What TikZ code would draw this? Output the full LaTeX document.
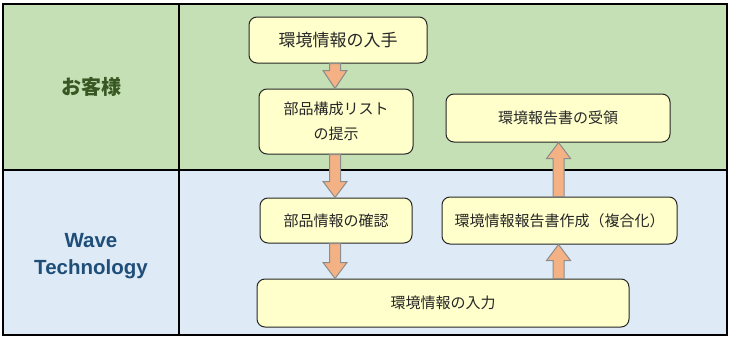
\documentclass[tikz,border=0pt]{standalone}
\usepackage{fontspec}
\setmainfont{Noto Sans CJK JP}
\newfontfamily\latinfont{Liberation Sans}
\usetikzlibrary{calc}
\definecolor{custgreen}{HTML}{C5E0B4}
\definecolor{wtblue}{HTML}{DEEBF7}
\definecolor{boxfill}{HTML}{FFFFCC}
\definecolor{arrowfill}{HTML}{F4B183}
\definecolor{custtext}{HTML}{385723}
\definecolor{wttext}{HTML}{1F4E79}

\begin{document}
\begin{tikzpicture}
  [x=1pt, y=-1pt,
   every node/.style={font=\fontsize{15}{25}\selectfont, text=black!85},
   stepbox/.style={draw=black!85, fill=boxfill, rounded corners=8pt, line width=1pt,
                   inner sep=0pt, align=center},
   lanelabel/.style={font=\fontsize{20}{26}\selectfont\bfseries, align=center},
   fatarrow/.style={draw=black!45, fill=arrowfill, line width=1pt, to path={
       let \p1=($(\tikztotarget)!#1!(\tikztostart)$) in
       ($(\tikztostart)!5.5pt!90:(\tikztotarget)$) -- ($(\p1)!5.5pt!90:(\tikztotarget)$)
       -- ($(\p1)!12pt!90:(\tikztotarget)$) -- (\tikztotarget)
       -- ($(\p1)!12pt!-90:(\tikztotarget)$) -- ($(\p1)!5.5pt!-90:(\tikztotarget)$)
       -- ($(\tikztostart)!5.5pt!-90:(\tikztotarget)$) -- cycle}},
   fatarrow/.default=16pt]
  \useasboundingbox (0,0) rectangle (731,340);
  % lanes
  \fill[custgreen] (3,4) rectangle (727,170);
  \fill[wtblue] (3,170) rectangle (727,335);
  \draw[line width=1.2pt] (3,4) rectangle (727,335);
  \draw[line width=1.2pt] (3,170) -- (727,170);
  \draw[line width=1.2pt] (179,4) -- (179,335);
  \node[lanelabel, text=custtext] (cust) at (91,87) {お客様};
  \node[lanelabel, text=wttext, font=\latinfont\fontsize{20.5}{27}\selectfont\bfseries]
    (wave) at (91,256) {Wave\\Technology};
  % steps
  \node[stepbox, minimum width=178pt, minimum height=46pt,
        font=\fontsize{17}{20}\selectfont] (get) at (338,40) {環境情報の入手};
  \node[stepbox, minimum width=154pt, minimum height=65pt] (list) at (336,121.5) {部品構成リスト\\の提示};
  \node[stepbox, minimum width=224pt, minimum height=48pt] (recv) at (558,118) {環境報告書の受領};
  \node[stepbox, minimum width=152pt, minimum height=45pt] (check) at (336,220.5) {部品情報の確認};
  \node[stepbox, minimum width=235pt, minimum height=47pt] (report) at (559.5,220.5) {環境情報報告書作成（複合化）};
  \node[stepbox, minimum width=372pt, minimum height=48pt] (input) at (443,303) {環境情報の入力};
  \coordinate (leftcol) at (335,0);
  \coordinate (rightcol) at (558.5,0);
  \path[fatarrow=18pt] (get.south -| leftcol) to (list.north -| leftcol);
  \path[fatarrow] (list.south -| leftcol) to (check.north -| leftcol);
  \path[fatarrow] (check.south -| leftcol) to (input.north -| leftcol);
  \path[fatarrow] (input.north -| rightcol) to (report.south -| rightcol);
  \path[fatarrow] (report.north -| rightcol) to (recv.south -| rightcol);
\end{tikzpicture}
\end{document}
